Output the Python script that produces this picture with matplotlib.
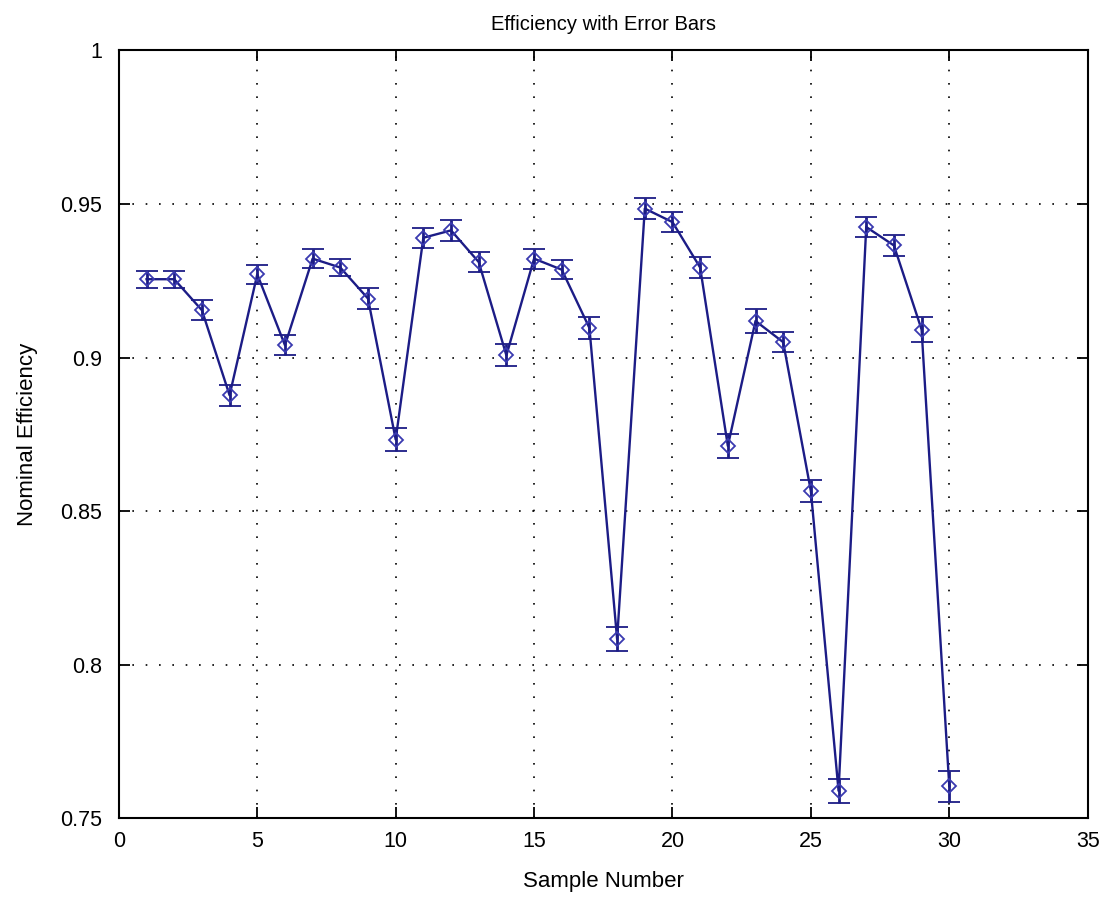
import matplotlib
matplotlib.use("Agg")
import matplotlib.pyplot as plt

# 샘플 번호별 효율
samples = list(range(1, 31))
efficiency = [0.9255, 0.9255, 0.9154, 0.8877, 0.9271, 0.9040, 0.9322, 0.9293, 0.9192, 0.8733,
              0.9390, 0.9414, 0.9311, 0.9007, 0.9322, 0.9286, 0.9096, 0.8083, 0.9485, 0.9441,
              0.9293, 0.8712, 0.9119, 0.9050, 0.8565, 0.7589, 0.9425, 0.9365, 0.9091, 0.7604]
errors = [0.0028, 0.0028, 0.0033, 0.0034, 0.0031, 0.0033, 0.0031, 0.0029, 0.0034, 0.0036,
          0.0033, 0.0033, 0.0033, 0.0036, 0.0033, 0.0031, 0.0037, 0.0039, 0.0033, 0.0033,
          0.0033, 0.0040, 0.0038, 0.0033, 0.0036, 0.0039, 0.0033, 0.0033, 0.0040, 0.0050]

plt.rcParams['font.family'] = ['Liberation Sans', 'DejaVu Sans']

fig = plt.figure(figsize=(11.11, 9.01), dpi=100)
ax = fig.add_axes([0.107, 0.092, 0.872, 0.852])

color = "#1c1c86"
ax.errorbar(samples, efficiency, yerr=errors, color=color, lw=1.7,
            marker="D", markersize=7.5, markerfacecolor="none", markeredgecolor="#3a3ab0",
            markeredgewidth=1.3, ecolor=color, elinewidth=2, capsize=8, capthick=2)

ax.set_xlim(0, 35)
ax.set_ylim(0.75, 1)
ax.set_xticks([0, 5, 10, 15, 20, 25, 30, 35])
ax.set_yticks([0.75, 0.8, 0.85, 0.9, 0.95, 1])
ax.set_yticklabels(["0.75", "0.8", "0.85", "0.9", "0.95", "1"])
ax.grid(True, linestyle=(0, (1, 7)), color="black", linewidth=1.2)
ax.tick_params(direction="in", top=True, right=True, length=8, width=1.3,
               labelsize=15.5, pad=9)
ax.tick_params(axis="y", pad=12)
for s in ax.spines.values():
    s.set_linewidth(1.5)

ax.set_title("Efficiency with Error Bars", fontsize=14.5, pad=15)
ax.set_xlabel("Sample Number", fontsize=16, labelpad=14)
ax.set_ylabel("Nominal Efficiency", fontsize=16, labelpad=16)

fig.savefig("out.png", dpi=100)
